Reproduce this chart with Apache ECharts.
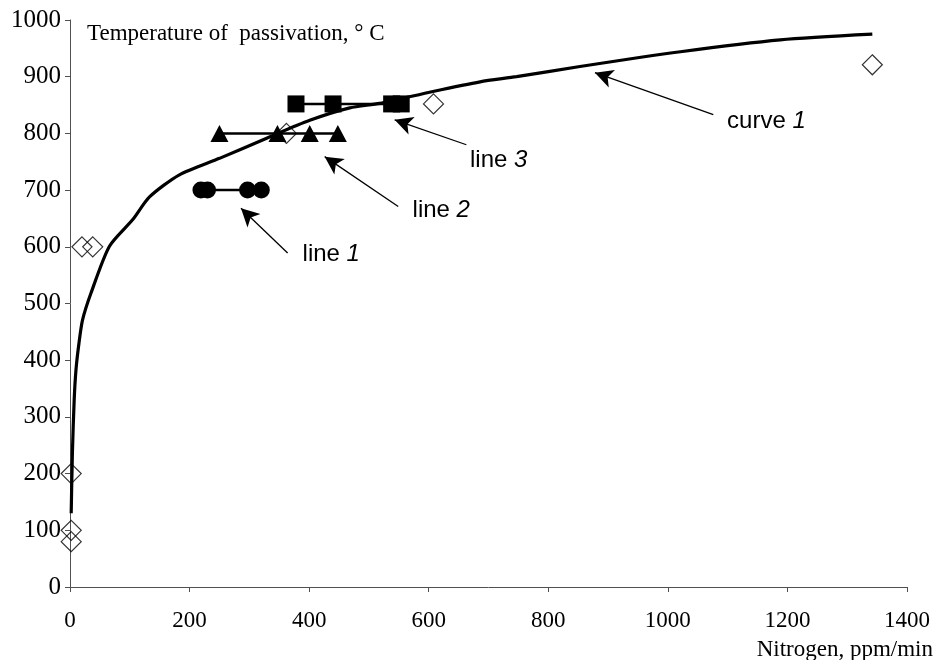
<!DOCTYPE html>
<html>
<head>
<meta charset="utf-8">
<script src="https://cdn.jsdelivr.net/npm/echarts@6/dist/echarts.min.js"></script>
<style>html,body{margin:0;padding:0;background:#fff}#c{width:935px;height:660px}</style>
</head>
<body>
<div id="c"></div>
<script>
// ---- data ----
const curveX = [2, 4, 7, 10, 15, 21, 35, 66, 105, 133, 183, 250, 328, 401, 468, 518, 607, 686, 747, 853, 1021, 1188, 1342];
const curveY = [130, 236, 330, 383, 430, 471, 518, 601, 648, 688, 727, 756, 791, 823, 845, 853, 874, 891, 900, 918, 944, 965, 975];
const diamondX = [2, 2, 2, 20, 38, 362, 608, 1342];
const diamondY = [80, 100, 200, 600, 600, 800, 852, 921];
const line1X = [219, 230, 297, 320];
const line1Y = [700, 700, 700, 700];
const line2X = [250, 347, 401, 448];
const line2Y = [800, 800, 800, 800];
const line3X = [378, 440, 538, 554];
const line3Y = [852, 852, 852, 852];
// annotation arrows: tail and head points, label text, italic number
const annoTail = [[364, 589], [549, 671], [663, 780], [1076, 833]];
const annoHead = [[286, 668], [426, 759], [543, 824], [878, 907]];
const annoText = ['line ', 'line ', 'line ', 'curve '];
const annoNum = ['1', '2', '3', '1'];
const annoLabelPos = [[389, 586], [573, 664], [669, 752], [1099, 821]];
const xTitle = 'Nitrogen, ppm/min';
const yTitle = 'Temperature of  passivation, ° C';

const zip = (xs, ys) => xs.map((x, i) => [x, ys[i]]);
const chart = echarts.init(document.getElementById('c'), null, {renderer: 'canvas'});
const serif = '"Liberation Serif", "Times New Roman", serif';
const sans = '"Liberation Sans", Arial, sans-serif';

const axisCommon = {
  axisLine: {show: true, lineStyle: {color: '#505050', width: 1}},
  axisTick: {show: true, inside: false, length: 5, lineStyle: {color: '#505050', width: 1}},
  splitLine: {show: false}
};
const labelStyle = {color: '#000', fontFamily: serif, fontSize: 23, formatter: v => String(v)};

chart.setOption({
  animation: false,
  backgroundColor: '#fff',
  grid: {left: 70, right: 28, top: 20, bottom: 73, containLabel: false},
  xAxis: Object.assign({type: 'value', min: 0, max: 1400, interval: 200}, axisCommon,
    {axisLabel: Object.assign({}, labelStyle, {margin: 22})}),
  yAxis: Object.assign({type: 'value', min: 0, max: 1000, interval: 100}, axisCommon,
    {axisLabel: Object.assign({}, labelStyle, {margin: 9, fontSize: 25})}),
  graphic: [
    {type: 'text', left: 87, top: 22, style: {text: yTitle, font: '23px ' + serif, fill: '#000'}},
    {type: 'text', right: 2, top: 638, style: {text: xTitle, font: '23px ' + serif, fill: '#000'}}
  ],
  series: [
    {
      type: 'scatter', name: 'diamonds', z: 1,
      data: zip(diamondX, diamondY), symbol: 'diamond', symbolSize: [20, 20],
      itemStyle: {color: 'rgba(255,255,255,0)', borderColor: '#000', borderWidth: 1.2}
    },
    {
      type: 'line', name: 'curve 1', z: 3, data: zip(curveX, curveY), smooth: 0.25,
      showSymbol: false, symbol: 'none', lineStyle: {color: '#000', width: 3.2},
      markLine: {
        silent: true, symbol: ['none', 'arrow'], symbolSize: [14, 18],
        lineStyle: {color: '#000', width: 1.3, type: 'solid'}, label: {show: false},
        data: annoTail.map((t, i) => [{coord: t}, {coord: annoHead[i]}])
      },
      markPoint: {
        silent: true, symbol: 'circle', symbolSize: 0,
        data: annoLabelPos.map((p, i) => ({coord: p, value: i})),
        label: {
          show: true, position: 'right', distance: 0,
          formatter: p => '{a|' + annoText[p.value] + '}{b|' + annoNum[p.value] + '}',
          rich: {
            a: {fontFamily: sans, fontSize: 24, color: '#000'},
            b: {fontFamily: sans, fontSize: 24, fontStyle: 'italic', color: '#000'}
          }
        }
      }
    },
    {
      type: 'line', name: 'line 1', z: 4, data: zip(line1X, line1Y), symbol: 'circle', symbolSize: 17,
      showAllSymbol: true, lineStyle: {color: '#000', width: 2.5}, itemStyle: {color: '#000', borderWidth: 0}
    },
    {
      type: 'line', name: 'line 2', z: 4, data: zip(line2X, line2Y), symbol: 'triangle', symbolSize: [18, 17],
      showAllSymbol: true, lineStyle: {color: '#000', width: 2.5}, itemStyle: {color: '#000', borderWidth: 0}
    },
    {
      type: 'line', name: 'line 3', z: 4, data: zip(line3X, line3Y), symbol: 'rect', symbolSize: 17,
      showAllSymbol: true, lineStyle: {color: '#000', width: 2.5}, itemStyle: {color: '#000', borderWidth: 0}
    }
  ]
});
</script>
</body>
</html>
